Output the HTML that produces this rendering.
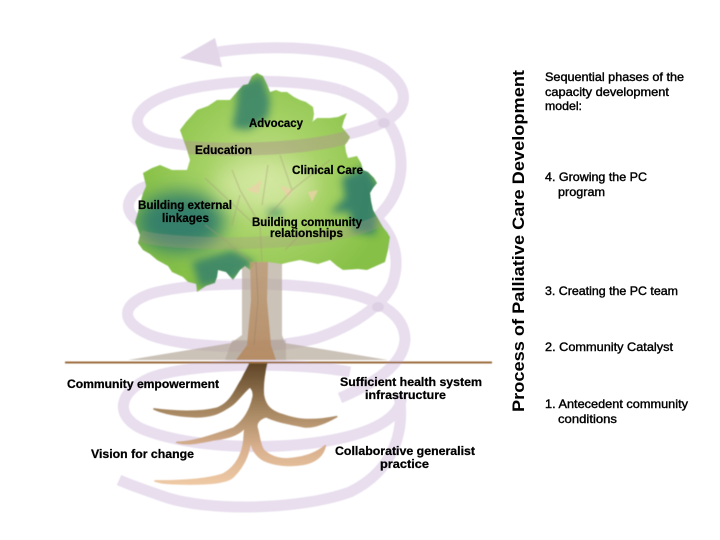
<!DOCTYPE html>
<html><head><meta charset="utf-8">
<style>
html,body{margin:0;padding:0;background:#fff}
svg{display:block}
text{font-family:"Liberation Sans",sans-serif}
.b{font-weight:bold;font-size:12px;fill:#000;stroke:#000;stroke-width:.25}
.r{font-size:12px;fill:#000;stroke:#000;stroke-width:.4}
</style></head><body>
<svg width="720" height="540" viewBox="0 0 720 540" xmlns="http://www.w3.org/2000/svg">
<defs>
<filter id="bl" x="-50%" y="-50%" width="200%" height="200%"><feGaussianBlur stdDeviation="9"/></filter>
<filter id="bs" x="-50%" y="-50%" width="200%" height="200%"><feGaussianBlur stdDeviation="4"/></filter>
<filter id="soft"><feGaussianBlur stdDeviation=".4"/></filter>
<linearGradient id="root" gradientUnits="userSpaceOnUse" x1="0" y1="250" x2="0" y2="612">
<stop offset="0" stop-color="#5f4526"/><stop offset=".4" stop-color="#a78862"/><stop offset=".7" stop-color="#d8b08e"/><stop offset="1" stop-color="#eec9a4"/>
</linearGradient>
<linearGradient id="trunk" x1="0" y1="0" x2="0" y2="1">
<stop offset="0" stop-color="#bd9c78"/><stop offset="1" stop-color="#b4875c"/>
</linearGradient>
<radialGradient id="leaf" gradientUnits="userSpaceOnUse" cx="265" cy="180" r="125">
<stop offset="0" stop-color="#c8e192"/><stop offset=".5" stop-color="#a4d164"/><stop offset="1" stop-color="#86c046"/>
</radialGradient>
<clipPath id="tc"><path id="tp" d="M252 76L257 73L263 76L267 84L270 92L276 90L281 92L287 92L294 97L300 100L306 102L313 107L314 114L313 120L310 126L307 130L312 122L317 118L324 118L330 118L338 117L347 113L344 120L342 127L350 137L348 141L345 145L346 152L348 158L357 156L361 163L363 170L368 172L374 178L377 183L373 188L370 193L371 201L373 210L376 215L383 227L387 232L390 237L388 250L385 262L376 266L367 270L358 269L343 270L337 266L330 260L318 264L300 260L290 262L282 264L268 262L257 262L250 270L245 266L240 270L233 280L226 272L218 270L217 277L215 283L206 286L197 292L196 284L188 282L183 277L172 272L168 266L157 260L150 254L143 250L138 243L140 235L135 222L138 212L143 193L146 186L143 173L152 168L160 165L172 170L187 170L190 160L187 150L180 130L186 122L197 110L208 106L217 100L230 100L236 93L243 85L248 84Z"/></clipPath>
</defs>
<rect width="720" height="540" fill="#fff"/>
<g filter="url(#soft)">
<!-- spiral -->
<g fill="none" stroke="#e8deee" stroke-width="11">
<path d="M218 52C270 44 350 46 385 70C412 90 410 112 375 126C330 144 230 152 170 143C130 136 125 112 165 96C205 80 290 76 340 90"/>
<path d="M340 90C380 104 401 130 401 165C401 185 392 205 374 220C340 245 240 248 190 240C145 232 120 215 131 198C134 192 140 188 148 186"/>
<path d="M374 216C395 235 401 260 392 285C382 305 355 325 320 337C280 350 190 350 150 335C120 322 120 305 150 294C190 282 270 282 320 288C380 296 405 315 405 340C403 365 375 383 340 398"/>
<path d="M350 372C300 362 190 362 150 378C118 392 115 415 140 428C190 450 290 452 350 436C395 424 403 405 401 395"/>
<path d="M399 395C405 430 395 470 350 492C300 510 210 512 165 497C145 490 130 485 119 480"/>
</g>
<path d="M180 58L215 38L222 67Z" fill="#e2d6e8"/>
<ellipse cx="384" cy="123" rx="6" ry="5" fill="#ddd0e4"/>
<ellipse cx="378" cy="307" rx="6" ry="5" fill="#ddd0e4"/>
<!-- grey trunk -->
<path d="M242 262H282V335L285 343L388 360H128L231 343L242 335Z" fill="#b5a89a" fill-opacity=".7"/>
<path d="M232 340H286V360H225Z" fill="#9c8c7c" fill-opacity=".3"/>
<!-- tree crown -->
<use href="#tp" fill="url(#leaf)"/>
<g clip-path="url(#tc)">
<path d="M238 85L262 75L270 100L268 118L248 130L232 128L236 108Z" fill="#35806a" filter="url(#bs)" opacity=".85"/>
<path d="M342 178L368 165L380 190L375 235L352 232L350 212L330 212L345 198Z" fill="#35806a" filter="url(#bs)" opacity=".95"/>
<ellipse cx="180" cy="222" rx="44" ry="30" fill="#35806a" filter="url(#bl)"/>
<path d="M192 262L232 250L255 262L235 280L200 288Z" fill="#35806a" filter="url(#bs)" opacity=".85"/>
<ellipse cx="275" cy="212" rx="8" ry="5" fill="#3a8a62" filter="url(#bs)" opacity=".8"/>
<ellipse cx="265" cy="185" rx="50" ry="24" fill="#d8eba8" filter="url(#bl)" opacity=".6"/>
<path d="M247 190L262 180L258 194ZM280 185L293 190L288 198ZM308 192L318 190L312 202Z" fill="#ecd2a8" opacity=".75"/>
<!-- bands over crown -->
<path d="M172 146C225 152 310 150 355 135" fill="none" stroke="#ad9f86" stroke-width="13" stroke-opacity=".55"/>
<path d="M140 236C170 246 330 250 385 218" fill="none" stroke="#a99d85" stroke-width="12" stroke-opacity=".32"/>
</g>
<!-- branches -->
<g fill="none" stroke="#a89878" stroke-width="1.3" stroke-opacity=".4">
<path d="M262 262L260 225L240 190L232 170M255 225L205 178M260 225L292 190L280 155M262 205L268 165M240 195L232 225M285 250L310 225M250 262L225 240L205 225M292 190L330 160"/>
</g>
<!-- trunk -->
<path d="M250 262H268L267 300L271 345L276 360H236L247 345L251 300Z" fill="url(#trunk)" fill-opacity=".85"/>
<path d="M256 262L258 300L254 345" fill="none" stroke="#8d7a65" stroke-width="1" stroke-opacity=".45"/>
<!-- roots -->
<g transform="translate(50 280) scale(.3333)">
<path d="M600 250H650C640 290 638 320 640 345C645 375 660 395 700 405C730 415 770 428 860 410C825 430 790 445 760 440C710 430 680 425 648 410C632 415 620 425 620 440C628 465 628 490 640 510C665 535 700 540 730 535C775 530 805 515 826 497C820 525 800 545 760 553C715 560 670 555 640 540C615 525 605 505 602 480C598 510 590 550 550 590C530 610 470 612 420 612C380 612 340 612 315 603C390 603 470 600 520 582C560 560 578 520 582 480L585 440C570 465 530 475 490 480C450 488 410 497 380 487C430 487 490 465 550 445C580 425 600 395 610 350C612 335 605 325 600 320C580 335 560 370 530 385C500 405 470 412 430 410C385 408 345 402 312 387C370 395 450 398 500 385C545 370 560 320 575 300Z" fill="url(#root)" stroke="url(#root)" stroke-width="5" stroke-linejoin="round"/>
</g>
<!-- ground -->
<rect x="65" y="361.5" width="427" height="2" fill="#9c6c3e"/>
</g>
<g>
<!-- tree labels -->
<text class="b" x="249" y="127" textLength="54" lengthAdjust="spacingAndGlyphs">Advocacy</text>
<text class="b" x="195" y="154" textLength="57" lengthAdjust="spacingAndGlyphs">Education</text>
<text class="b" x="292" y="174" textLength="71" lengthAdjust="spacingAndGlyphs">Clinical Care</text>
<text class="b" x="138" y="209" textLength="94" lengthAdjust="spacingAndGlyphs">Building external</text>
<text class="b" x="162" y="222" textLength="47" lengthAdjust="spacingAndGlyphs">linkages</text>
<text class="b" x="252" y="226" textLength="110" lengthAdjust="spacingAndGlyphs">Building community</text>
<text class="b" x="270" y="237" textLength="73" lengthAdjust="spacingAndGlyphs">relationships</text>
<text class="b" x="67" y="388" textLength="152" lengthAdjust="spacingAndGlyphs">Community empowerment</text>
<text class="b" x="340" y="386" textLength="142" lengthAdjust="spacingAndGlyphs">Sufficient health system</text>
<text class="b" x="365" y="399" textLength="81" lengthAdjust="spacingAndGlyphs">infrastructure</text>
<text class="b" x="91" y="458" textLength="103" lengthAdjust="spacingAndGlyphs">Vision for change</text>
<text class="b" x="335" y="455" textLength="140" lengthAdjust="spacingAndGlyphs">Collaborative generalist</text>
<text class="b" x="380" y="468" textLength="49" lengthAdjust="spacingAndGlyphs">practice</text>
<!-- right column -->
<text transform="translate(524 412) rotate(-90)" font-size="17" font-weight="bold" fill="#000" textLength="342" lengthAdjust="spacingAndGlyphs">Process of Palliative Care Development</text>
<text class="r" x="545" y="81" textLength="139" lengthAdjust="spacingAndGlyphs">Sequential phases of the</text>
<text class="r" x="545" y="96" textLength="124" lengthAdjust="spacingAndGlyphs">capacity development</text>
<text class="r" x="545" y="110" textLength="37" lengthAdjust="spacingAndGlyphs">model:</text>
<text class="r" x="545" y="181" textLength="102" lengthAdjust="spacingAndGlyphs">4. Growing the PC</text>
<text class="r" x="558" y="196" textLength="47" lengthAdjust="spacingAndGlyphs">program</text>
<text class="r" x="545" y="295" textLength="133" lengthAdjust="spacingAndGlyphs">3. Creating the PC team</text>
<text class="r" x="545" y="351" textLength="128" lengthAdjust="spacingAndGlyphs">2. Community Catalyst</text>
<text class="r" x="545" y="408" textLength="143" lengthAdjust="spacingAndGlyphs">1. Antecedent community</text>
<text class="r" x="558" y="423" textLength="59" lengthAdjust="spacingAndGlyphs">conditions</text>
</g>
</svg>
</body></html>
